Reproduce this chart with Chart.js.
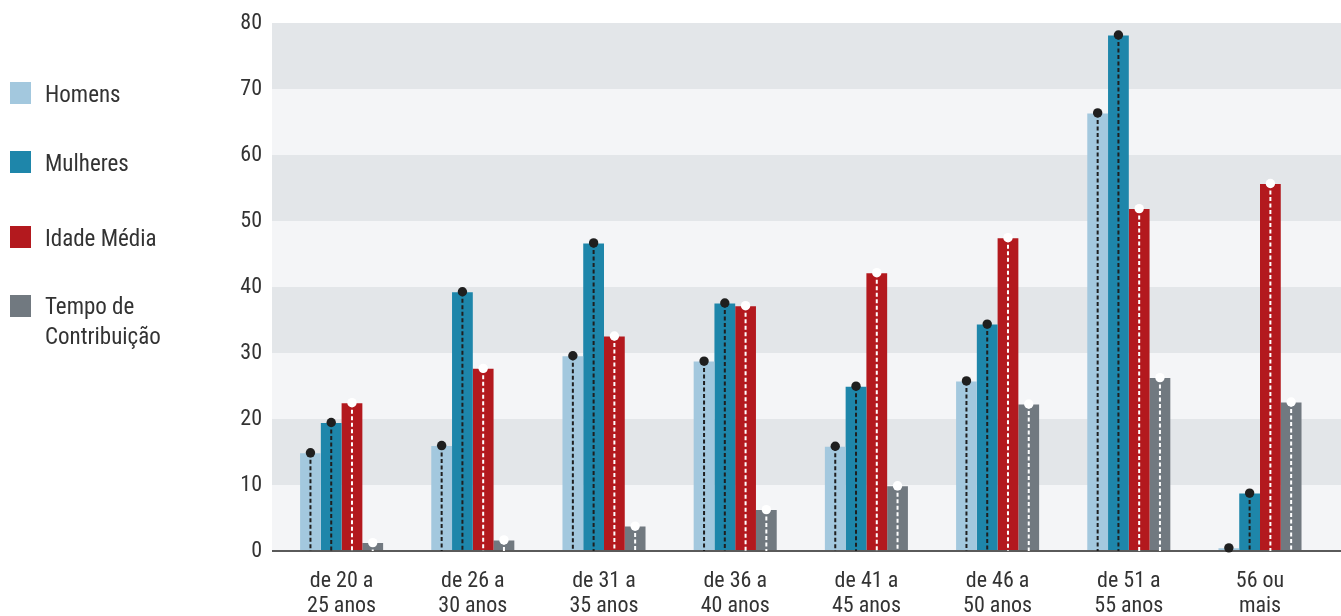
<!DOCTYPE html>
<html lang="pt">
<head>
<meta charset="utf-8">
<script src="https://cdn.jsdelivr.net/npm/chart.js@4"></script>
<style>
  html, body { margin: 0; padding: 0; background: #ffffff; }
  #wrap { position: relative; width: 1341px; height: 616px; overflow: hidden; }
  #chart { position: absolute; left: 0; top: 0; }
  .legend { position: absolute; left: 0; top: 0; font-family: 'Roboto Condensed', 'DejaVu Sans Condensed', 'Liberation Sans Narrow', sans-serif; font-stretch: condensed; font-size: 23px; color: #333; }
  .item { position: absolute; left: 10px; display: flex; align-items: flex-start; white-space: nowrap; }
  .sw { width: 21px; height: 22px; flex: none; }
  .txt { margin-left: 14px; line-height: 30px; margin-top: -2px; }
</style>
</head>
<body>
<div id="wrap">
  <canvas id="chart" width="1341" height="616"></canvas>
  <div class="legend">
    <div class="item" style="top:82px"><div class="sw" style="background:#a3c8de"></div><div class="txt">Homens</div></div>
    <div class="item" style="top:151px"><div class="sw" style="background:#1e86aa"></div><div class="txt">Mulheres</div></div>
    <div class="item" style="top:226px"><div class="sw" style="background:#b3191e"></div><div class="txt">Idade Média</div></div>
    <div class="item" style="top:295px"><div class="sw" style="background:#717980"></div><div class="txt" style="margin-top:-3px">Tempo de<br>Contribuição</div></div>
  </div>
</div>
<script>
// Faixas etárias (eixo x)
const categories = [
  ["de 20 a", "25 anos"],
  ["de 26 a", "30 anos"],
  ["de 31 a", "35 anos"],
  ["de 36 a", "40 anos"],
  ["de 41 a", "45 anos"],
  ["de 46 a", "50 anos"],
  ["de 51 a", "55 anos"],
  ["56 ou", "mais"]
];

// Valores por série
const homens = [14.8, 15.9, 29.5, 28.7, 15.8, 25.7, 66.3, 0.4];
const mulheres = [19.4, 39.2, 46.6, 37.5, 24.9, 34.3, 78.1, 8.7];
const idadeMedia = [22.4, 27.6, 32.5, 37.1, 42.1, 47.4, 51.8, 55.6];
const tempoContribuicao = [1.2, 1.6, 3.7, 6.2, 9.8, 22.2, 26.2, 22.5];

// Eixo y
const yMin = 0;
const yMax = 80;
const yStep = 10;

const FONT = "'Roboto Condensed', 'DejaVu Sans Condensed', 'Liberation Sans Narrow', sans-serif";

// Faixas horizontais alternadas atrás das barras
const bandsPlugin = {
  id: 'bands',
  beforeDatasetsDraw(chart) {
    const { ctx, chartArea, scales } = chart;
    const y = scales.y;
    ctx.save();
    for (let v = yMin; v < yMax; v += yStep) {
      const top = y.getPixelForValue(v + yStep);
      const bottom = y.getPixelForValue(v);
      ctx.fillStyle = ((v / yStep) % 2 === 0) ? '#f4f5f7' : '#e3e6e9';
      ctx.fillRect(chartArea.left - 4, top, chart.width - chartArea.left + 4, bottom - top);
    }
    ctx.restore();
  },
  afterDatasetsDraw(chart) {
    const { ctx, chartArea, scales } = chart;
    const y0 = scales.y.getPixelForValue(0);
    ctx.save();
    ctx.strokeStyle = '#5a5a5a';
    ctx.lineWidth = 2;
    ctx.beginPath();
    ctx.moveTo(chartArea.left - 4, y0);
    ctx.lineTo(chart.width, y0);
    ctx.stroke();
    ctx.restore();
  }
};

// Linha tracejada e marcador no topo de cada barra
const markersPlugin = {
  id: 'markers',
  afterDatasetsDraw(chart) {
    const { ctx } = chart;
    ctx.save();
    chart.data.datasets.forEach((ds, i) => {
      const meta = chart.getDatasetMeta(i);
      meta.data.forEach(bar => {
        ctx.strokeStyle = ds.markerColor;
        ctx.lineWidth = 2;
        ctx.setLineDash([4, 2.5]);
        ctx.beginPath();
        ctx.moveTo(bar.x, bar.y);
        ctx.lineTo(bar.x, bar.base);
        ctx.stroke();
        ctx.setLineDash([]);
        ctx.fillStyle = ds.markerColor;
        ctx.beginPath();
        ctx.arc(bar.x, bar.y - 0.5, 4.7, 0, Math.PI * 2);
        ctx.fill();
      });
    });
    ctx.restore();
  }
};

new Chart(document.getElementById('chart'), {
  type: 'bar',
  data: {
    labels: categories,
    datasets: [
      { label: 'Homens', data: homens, backgroundColor: '#a3c8de', markerColor: '#1f1f1f' },
      { label: 'Mulheres', data: mulheres, backgroundColor: '#1e86aa', markerColor: '#1f1f1f' },
      { label: 'Idade Média', data: idadeMedia, backgroundColor: '#b3191e', markerColor: '#ffffff' },
      { label: 'Tempo de Contribuição', data: tempoContribuicao, backgroundColor: '#717980', markerColor: '#ffffff' }
    ]
  },
  options: {
    responsive: false,
    devicePixelRatio: 1,
    animation: false,
    layout: { padding: { top: 23, right: 15.4, left: 0, bottom: 0 } },
    datasets: { bar: { categoryPercentage: 0.633, barPercentage: 1, borderWidth: 0 } },
    plugins: { legend: { display: false }, tooltip: { enabled: false } },
    scales: {
      x: {
        grid: { display: false, drawTicks: false },
        border: { display: false },
        ticks: {
          color: '#333',
          font: { family: FONT, size: 22, weight: 'condensed', lineHeight: 1.14 },
          padding: 18,
          maxRotation: 0,
          autoSkip: false
        },
        afterFit(scale) { scale.height = 65; }
      },
      y: {
        min: yMin,
        max: yMax,
        grid: { display: false, drawTicks: false },
        border: { display: false },
        ticks: {
          stepSize: yStep,
          color: '#333',
          font: { family: FONT, size: 22, weight: 'condensed' },
          padding: 14
        },
        afterFit(scale) {
          scale.width = 276;
          scale.paddingTop = 0;
          scale.paddingBottom = 0;
        }
      }
    }
  },
  plugins: [bandsPlugin, markersPlugin]
});
</script>
</body>
</html>
